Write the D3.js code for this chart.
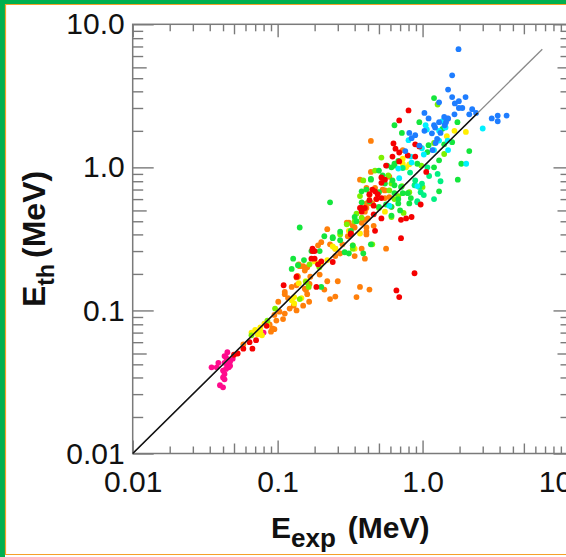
<!DOCTYPE html>
<html>
<head>
<meta charset="utf-8">
<script src="https://cdn.jsdelivr.net/npm/d3@7/dist/d3.min.js"></script>
<style>
  html, body { margin: 0; padding: 0; background: #fff; }
  svg { display: block; font-family: "Liberation Sans", Arial, sans-serif; }
</style>
</head>
<body>
<div id="chart"></div>
<script>
// [E_exp, E_th] in MeV, one list per colour group
var pinkPts = [[0.035,0.040],[0.038,0.040],[0.043,0.048],[0.044,0.047],[0.045,0.045],[0.043,0.043],[0.045,0.041],[0.046,0.040],[0.047,0.041],[0.042,0.038],[0.043,0.036],[0.042,0.034],[0.043,0.033],[0.040,0.030],[0.042,0.029],[0.045,0.051],[0.049,0.046],[0.039,0.043],[0.080,0.070],[0.047,0.044],[0.044,0.039]];
var orangePts = [[0.058,0.058],[0.090,0.071],[0.095,0.074],[0.088,0.080],[0.098,0.085],[0.103,0.098],[0.109,0.087],[0.112,0.095],[0.101,0.115],[0.112,0.13],[0.118,0.122],[0.121,0.103],[0.129,0.108],[0.135,0.100],[0.125,0.146],[0.135,0.15],[0.138,0.172],[0.142,0.204],[0.154,0.142],[0.150,0.108],[0.157,0.139],[0.165,0.115],[0.162,0.155],[0.168,0.172],[0.150,0.204],[0.095,0.093],[0.092,0.075],[0.112,0.135],
  [0.44,1.53],[0.44,0.93],[0.37,0.82],[0.41,0.72],[0.47,0.72],[0.43,0.64],[0.48,0.6],[0.40,0.49],[0.22,0.37],[0.31,0.41],[0.38,0.41],[0.34,0.38],[0.41,0.38],[0.46,0.39],[0.20,0.30],[0.32,0.355],[0.305,0.33],[0.41,0.355],[0.41,0.34],[0.19,0.285],[0.25,0.27],[0.28,0.29],[0.38,0.27],[0.27,0.25],[0.14,0.21],[0.154,0.19],[0.135,0.17],[0.195,0.178],[0.25,0.24],
  [0.30,0.41],[0.23,0.29],[0.56,0.27],[0.40,0.23],[0.34,0.24],[0.16,0.20],[0.166,0.153],[0.22,0.16],[0.26,0.16],[0.37,0.146],[0.43,0.14],[0.35,0.124],[0.16,0.13],[0.23,0.12],[0.41,0.56],[0.44,0.56],[0.55,0.69],[0.59,0.62],[0.25,0.125],[0.21,0.14],
  [0.73,1.32],[0.59,0.86],[0.53,0.70],[0.55,0.61],[0.41,0.52],[0.45,0.56],[0.61,0.53],[0.42,0.44],[0.40,0.43],[0.33,0.39],[0.137,0.174]];
var yellowPts = [[0.070,0.073],[0.073,0.068],[0.076,0.076],[0.078,0.067],[0.081,0.081],[0.076,0.071],[0.125,0.118],[0.13,0.112],[0.13,0.124],[0.14,0.155],[0.37,0.345],[0.33,0.285],[0.24,0.28],[0.18,0.22],[0.22,0.225],[0.20,0.215],[0.55,0.49],[0.77,1.0],[0.81,1.05],[0.73,1.06],[0.31,0.36],[0.156,0.16],[0.195,0.215],[1.66,1.8],[1.99,1.77],[1.47,1.65],[0.066,0.070],[0.085,0.079],
  [0.73,1.15],[0.71,1.11],[0.25,0.27],[0.34,0.27],[0.146,0.122]];
var limePts = [[0.066,0.067],[0.096,0.103],[0.142,0.12],[0.157,0.158],[0.164,0.146],[0.085,0.085],[0.35,0.475],[0.38,0.445],[0.30,0.40],[0.34,0.42],[0.27,0.34],[0.45,0.29],[0.33,0.27],[0.194,0.20],[1.27,2.75],[0.50,0.52],[0.64,0.60],[0.59,0.69],[0.72,0.74],[0.81,0.67],[0.58,0.88],[0.98,1.03],[0.52,1.17],[0.47,0.95],[0.39,0.81],[0.68,0.63],[0.37,0.63],[0.74,0.48],[1.0,0.73],[1.2,1.48],[1.41,1.24],
  [0.61,0.77],[0.61,0.45],[0.166,0.21]];
var greenPts = [[0.128,0.23],[0.152,0.225],[0.125,0.195],[0.138,0.207],[0.23,0.57],[0.50,0.95],[0.44,0.83],[0.38,0.68],[0.43,0.58],[0.34,0.45],[0.142,0.38],[0.32,0.36],[0.21,0.33],[0.24,0.325],[0.27,0.355],[0.195,0.26],[0.171,0.26],[0.29,0.255],[0.39,0.25],[0.38,0.57],[0.68,0.60],[0.72,1.74],[0.64,1.97],[0.95,2.07],[1.2,3.05],[0.44,0.29],[0.50,0.67],[0.61,0.46],[0.56,0.55],[0.81,0.56],[1.3,0.68],[0.64,0.75],[0.53,0.88],[0.64,1.03],[1.75,0.82],[0.68,1.11],[1.41,1.45],[1.6,1.5],[1.85,1.06],[2.1,1.3],[1.74,2.07],
  [1.37,1.86],[1.1,1.43],[1.08,1.28],[0.92,1.06],[1.3,1.12],[1.2,1.0],[0.44,0.82],[0.57,1.03],[0.41,0.70],[0.62,0.81],[0.64,0.66],[0.71,0.73],[0.73,0.66],[0.79,0.66],[0.83,0.61],[0.50,0.53],[0.61,0.53],[0.68,0.56],[0.61,1.0],[0.64,1.06],[0.55,0.77],[0.70,0.50],[0.35,0.42],[0.24,0.32],[0.27,0.31],[0.33,0.285],[0.31,0.25],[0.20,0.146]];
var mintPts = [[1.11,0.87],[0.92,0.57],[1.02,0.64],[0.82,0.92],[0.73,0.99],[1.2,0.60],[0.88,0.75],[1.08,1.0],[1.27,0.90],[1.33,0.80],[0.89,0.81],[0.95,0.73],[0.99,0.77],[0.97,0.67],[0.92,0.58]];
var cyanPts = [[2.0,1.06],[2.6,1.87],[1.05,1.97],[1.3,1.54],[1.2,1.32],[1.5,1.32],[1.02,1.23],[0.84,1.08],[0.69,0.84],[0.59,0.54],[0.80,1.55],[0.92,0.74],[1.44,1.9],[1.37,2.1],
  [1.07,1.84],[1.3,1.8],[0.99,1.36],[1.49,1.54],[0.83,1.19],[0.68,0.98]];
var redPts = [[0.050,0.049],[0.053,0.050],[0.058,0.054],[0.064,0.060],[0.067,0.054],[0.071,0.062],[0.084,0.078],[0.110,0.15],[0.171,0.23],[0.174,0.26],
  [0.56,1.03],[0.47,0.68],[0.52,0.78],[0.43,0.59],[0.52,0.61],[0.52,0.44],[0.71,0.43],[0.38,0.49],[0.40,0.52],[0.32,0.345],[0.47,0.36],[0.18,0.26],[0.71,0.32],[0.24,0.218],[0.18,0.23],[0.20,0.22],[0.135,0.172],[0.185,0.146],[0.66,0.138],[0.69,0.124],[0.88,0.182],
  [0.80,2.5],[0.69,2.13],[0.63,1.47],[0.65,1.35],[0.69,1.27],[0.89,1.45],[0.95,1.4],[0.62,1.19],[0.69,1.1],[0.79,1.21],[0.89,1.19],[1.06,0.93],[0.52,0.85],[0.55,0.82],[0.45,0.7],[0.49,0.65],[0.48,0.6],[0.38,0.52],[1.49,2.19],[0.97,0.55],[0.84,0.45],[0.77,0.44],
  [0.46,0.54],[0.46,0.47],[0.32,0.34],[0.37,0.52],[0.174,0.27],[0.43,0.65],[0.19,0.21]];
var bluePts = [[1.77,6.7],[1.6,4.4],[1.5,3.5],[1.6,3.1],[1.78,2.9],[1.98,3.1],[1.67,2.8],[1.88,2.6],[1.78,2.6],[2.2,2.55],[2.1,2.35],[2.34,2.4],[1.3,2.85],[1.03,2.4],[1.1,2.2],[1.3,2.07],[1.22,1.9],[1.42,1.97],[1.16,1.73],[1.03,1.8],[0.84,1.6],[0.81,1.74],[0.89,1.68],[1.17,1.32],[1.26,1.58],[1.5,2.2],[1.66,2.35],[3.3,2.3],[3.8,2.3],[3.0,2.2],[3.3,2.1],[0.95,1.42],
  [1.2,1.97],[1.41,2.25],[1.45,2.07],[1.33,1.74],[0.76,1.3],[1.23,1.48]];

var decades = [0.01, 0.1, 1, 10];
var xTickLabels = ["0.01", "0.1", "1.0", "10.0"];
var yTickLabels = ["0.01", "0.1", "1.0", "10.0"];
var minorSteps = [1.8, 2.6, 3.4, 4.2, 6, 7, 8, 9];
var midSteps = [5];
var diagEnd = 6.7;     // thin grey y = x line
var diagDarkEnd = 2.4; // dark part of the same line

var groups = [
    { pts: pinkPts, color: "#ff0a8c" },
    { pts: orangePts, color: "#ff7f0a" },
    { pts: yellowPts, color: "#ffee00" },
    { pts: limePts, color: "#7cf000" },
    { pts: greenPts, color: "#14e63c" },
    { pts: mintPts, color: "#00f082" },
    { pts: cyanPts, color: "#00f0ff" },
    { pts: redPts, color: "#f50000" },
    { pts: bluePts, color: "#1e7dff" }
];

var width = 566, height = 557;
var svg = d3.select("#chart").append("svg")
    .attr("width", width)
    .attr("height", height);

svg.append("rect").attr("width", width).attr("height", height).attr("fill", "#fff");

// page frame
svg.append("rect").attr("x", 0).attr("y", 0).attr("width", width).attr("height", 4).attr("fill", "#00b04f");
svg.append("rect").attr("x", 0).attr("y", 0).attr("width", 5).attr("height", height).attr("fill", "#00b04f");
svg.append("path")
    .attr("d", "M566,4.5H5.5V554.5H566")
    .attr("fill", "none")
    .attr("stroke", "#f5a02a")
    .attr("stroke-width", 1.2);

var x = d3.scaleLog().domain([0.01, 10]).range([132.7, 567.5]);
var y = d3.scaleLog().domain([0.01, 10]).range([453.5, 24.3]);

function expand(steps) {
    var out = [];
    decades.slice(0, 3).forEach(function (d) {
        steps.forEach(function (s) { out.push(d * s) });
    });
    return out;
}
var minorTicks = expand(minorSteps);
var midTicks = expand(midSteps);

var axisColor = "#7a7a7a";
var g = svg.append("g");

function drawAxis(axisFn, scale, transform, sizes) {
    [[decades, sizes[0]], [midTicks, sizes[1]], [minorTicks, sizes[2]]].forEach(function (t) {
        var a = g.append("g")
            .attr("transform", transform)
            .call(axisFn(scale).tickValues(t[0]).tickSize(-t[1]).tickSizeOuter(0).tickFormat(""));
        a.select(".domain").remove();
        a.selectAll("line").attr("stroke", axisColor).attr("stroke-width", 1.4);
    });
}

drawAxis(d3.axisLeft, y, "translate(132.7,0)", [21, 14, 10.5]);
drawAxis(d3.axisRight, y, "translate(567.5,0)", [14, 10, 7]);
drawAxis(d3.axisBottom, x, "translate(0,453.5)", [13, 10, 7]);
drawAxis(d3.axisTop, x, "translate(0,24.3)", [13, 10, 7]);

// frame lines
g.append("rect")
    .attr("x", 132.7).attr("y", 24.3)
    .attr("width", 567.5 - 132.7).attr("height", 453.5 - 24.3)
    .attr("fill", "none")
    .attr("stroke", axisColor)
    .attr("stroke-width", 1.5);

// tick labels
var yl = g.append("g")
    .attr("transform", "translate(132.7,0)")
    .call(d3.axisLeft(y).tickValues(decades).tickSize(0).tickPadding(8)
        .tickFormat(function (d, i) { return yTickLabels[i] }));
var xl = g.append("g")
    .attr("transform", "translate(0,453.5)")
    .call(d3.axisBottom(x).tickValues(decades).tickSize(0).tickPadding(17.5)
        .tickFormat(function (d, i) { return xTickLabels[i] }));
[yl, xl].forEach(function (a) {
    a.select(".domain").remove();
    a.selectAll("text")
        .attr("font-family", "'Liberation Sans', Arial, sans-serif")
        .attr("font-size", 30)
        .attr("fill", "#111");
});

// points
groups.forEach(function (grp) {
    svg.append("g").selectAll("circle")
        .data(grp.pts)
        .enter().append("circle")
        .attr("cx", function (d) { return x(d[0]) })
        .attr("cy", function (d) { return y(d[1]) })
        .attr("r", 2.9)
        .attr("fill", grp.color);
});

// y = x line
svg.append("line")
    .attr("x1", x(0.01)).attr("y1", y(0.01))
    .attr("x2", x(diagEnd)).attr("y2", y(diagEnd))
    .attr("stroke", "#8a8a8a")
    .attr("stroke-width", 1.3);
svg.append("line")
    .attr("x1", x(0.01)).attr("y1", y(0.01))
    .attr("x2", x(diagDarkEnd)).attr("y2", y(diagDarkEnd))
    .attr("stroke", "#111")
    .attr("stroke-width", 1.5);

// axis titles
var xt = svg.append("text")
    .attr("x", 271).attr("y", 537.5)
    .attr("font-weight", "bold")
    .attr("font-size", 30)
    .attr("fill", "#111");
xt.append("tspan").text("E");
xt.append("tspan").attr("font-size", 26).attr("dy", 9).text("exp");
xt.append("tspan").attr("dy", -9).attr("dx", 12).text("(MeV)");

var yt = svg.append("text")
    .attr("transform", "translate(45,307) rotate(-90)")
    .attr("font-weight", "bold")
    .attr("font-size", 32)
    .attr("fill", "#111");
yt.append("tspan").text("E");
yt.append("tspan").attr("font-size", 23).attr("dy", 9).text("th");
yt.append("tspan").attr("dy", -9).attr("dx", 6).text("(MeV)");
</script>
</body>
</html>
